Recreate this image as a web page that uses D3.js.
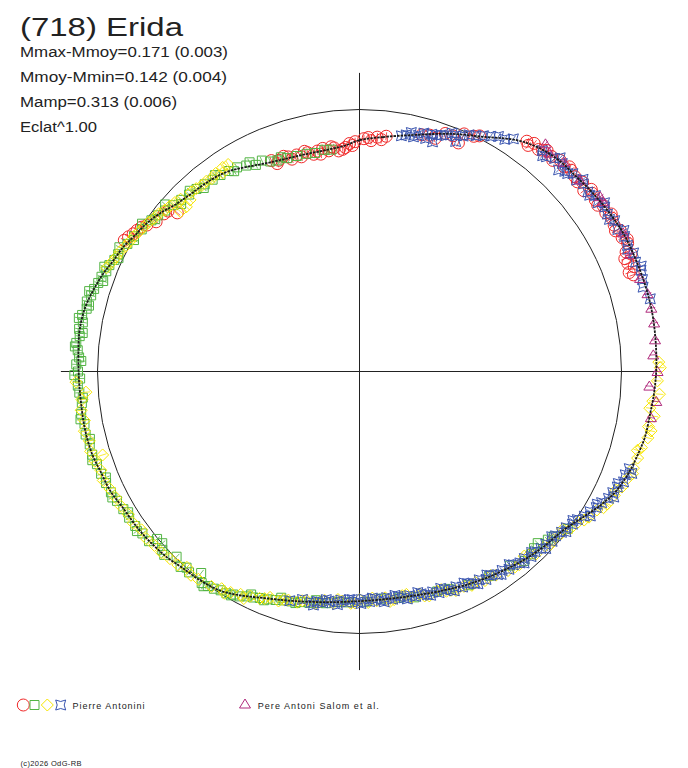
<!DOCTYPE html>
<html lang="en">
<head>
<meta charset="UTF-8">
<title>(718) Erida</title>
<script src="https://cdn.jsdelivr.net/npm/d3@7"></script>
<style>
  body { margin: 0; background: #fff; }
  text { font-family: "Liberation Sans", Arial, sans-serif; fill: #222; }
</style>
</head>
<body>
<div id="chart"></div>
<script>
// --- data: [phase, delta mag] (phase 0 at top, clockwise) ---
const fitCurve = [
  [0.000,0.135],[0.016,0.115],[0.038,0.079],[0.058,0.032],[0.078,-0.016],[0.095,-0.071],
  [0.106,-0.095],[0.119,-0.111],[0.134,-0.116],[0.146,-0.124],[0.161,-0.133],[0.173,-0.139],
  [0.185,-0.140],[0.200,-0.141],[0.212,-0.142],[0.223,-0.141],[0.237,-0.138],[0.250,-0.135],
  [0.262,-0.130],[0.273,-0.124],[0.286,-0.121],[0.296,-0.112],[0.306,-0.103],[0.319,-0.085],
  [0.329,-0.060],[0.342,-0.020],[0.355,0.015],[0.371,0.033],[0.386,0.051],[0.405,0.076],
  [0.424,0.099],[0.442,0.121],[0.460,0.137],[0.479,0.145],[0.500,0.143],[0.522,0.128],
  [0.545,0.100],[0.562,0.072],[0.578,0.035],[0.590,0.010],[0.604,-0.003],[0.617,-0.010],
  [0.628,-0.023],[0.642,-0.033],[0.653,-0.039],[0.667,-0.045],[0.679,-0.058],[0.692,-0.063],
  [0.701,-0.071],[0.713,-0.074],[0.722,-0.074],[0.733,-0.073],[0.747,-0.075],[0.771,-0.083],
  [0.783,-0.081],[0.791,-0.074],[0.799,-0.063],[0.808,-0.050],[0.817,-0.033],[0.827,-0.021],
  [0.837,-0.002],[0.847,0.012],[0.857,0.032],[0.868,0.059],[0.881,0.075],[0.894,0.083],
  [0.907,0.097],[0.920,0.125],[0.933,0.150],[0.9475,0.165],[0.962,0.171],[0.977,0.170],
  [0.989,0.160]
];

const redPts = [
  [0.937,0.148],[0.942,0.160],[0.946,0.150],[0.951,0.176],[0.955,0.163],[0.958,0.178],[0.963,0.166],
  [0.967,0.180],[0.970,0.168],[0.974,0.160],[0.978,0.176],[0.982,0.165],[0.985,0.182],[0.990,0.168],
  [0.993,0.150],[0.997,0.142],[0.003,0.128],[0.008,0.136],[0.012,0.118],[0.018,0.110],
  [0.940,0.172],[0.949,0.160],[0.961,0.156],[0.972,0.186],[0.980,0.158],[0.988,0.176],
  [0.995,0.160],[0.006,0.122],[0.015,0.128],
  [0.831,-0.030],[0.834,-0.022],[0.837,-0.012],[0.840,-0.006],[0.843,0.002],[0.846,0.016],
  [0.851,0.040],[0.858,0.046],[0.861,0.052],[0.864,0.088],
  [0.041,0.074],[0.046,0.066],[0.050,0.072],[0.055,0.038],[0.060,0.036],[0.065,0.055],
  [0.066,0.010],[0.072,0.002],[0.075,-0.010],
  [0.100,-0.090],[0.104,-0.100],[0.108,-0.092],[0.112,-0.110],[0.116,-0.104],[0.121,-0.115],
  [0.125,-0.108],[0.129,-0.118],[0.133,-0.112],[0.138,-0.120],[0.142,-0.103],[0.146,-0.122],
  [0.150,-0.116],[0.155,-0.128],[0.159,-0.121],[0.163,-0.130],[0.167,-0.124],[0.171,-0.134],
  [0.175,-0.128],[0.179,-0.137],[0.183,-0.118],[0.186,-0.104],[0.189,-0.108],[0.192,-0.125],
  [0.196,-0.112],
  [0.102,-0.080],[0.110,-0.100],[0.118,-0.096],[0.127,-0.122],[0.136,-0.106],[0.144,-0.128],
  [0.153,-0.112],[0.161,-0.136],[0.170,-0.118],[0.177,-0.142],[0.185,-0.132],[0.194,-0.100]
];

const greenPts = [
  [0.742,-0.080],[0.746,-0.070],[0.750,-0.078],[0.754,-0.085],[0.758,-0.075],[0.762,-0.082],
  [0.766,-0.090],[0.770,-0.080],[0.774,-0.086],[0.778,-0.076],[0.782,-0.084],[0.786,-0.072],
  [0.790,-0.078],[0.794,-0.068],[0.798,-0.064],[0.802,-0.056],[0.806,-0.052],[0.810,-0.042],
  [0.814,-0.040],[0.818,-0.030],[0.822,-0.026],[0.830,-0.012],[0.836,-0.004],[0.842,0.008],
  [0.850,0.020],[0.855,0.030],[0.860,0.040],[0.866,0.052],[0.872,0.062],[0.878,0.070],
  [0.884,0.074],[0.890,0.082],[0.896,0.088],[0.902,0.092],[0.908,0.098],[0.914,0.104],
  [0.920,0.118],[0.926,0.136],[0.931,0.130],[0.936,0.150],[0.941,0.158],[0.948,0.164],
  [0.955,0.168],[0.962,0.170],[0.968,0.175],[0.975,0.168],[0.980,0.172],
  [0.748,-0.092],[0.756,-0.066],[0.764,-0.094],[0.772,-0.070],[0.780,-0.094],[0.788,-0.066],
  [0.796,-0.080],[0.804,-0.040],[0.812,-0.056],[0.820,-0.018],[0.826,-0.034],[0.834,0.004],
  [0.845,-0.004],[0.852,0.030],[0.863,0.024],[0.870,0.074],[0.880,0.060],[0.888,0.092],
  [0.899,0.078],[0.911,0.112],[0.923,0.112],[0.944,0.150],
  [0.523,0.122],[0.528,0.118],[0.534,0.110],[0.540,0.104],[0.546,0.096],[0.551,0.090],
  [0.556,0.080],[0.561,0.070],[0.566,0.062],[0.570,0.052],[0.574,0.044],[0.578,0.030],
  [0.582,0.024],[0.586,0.014],[0.590,0.012],[0.594,0.002],[0.598,-0.003],[0.602,-0.008],
  [0.606,0.024],[0.612,-0.006],[0.618,-0.012],[0.624,0.007],[0.630,-0.024],[0.636,0.002],
  [0.640,-0.003],[0.642,-0.034],[0.648,-0.036],[0.654,-0.042],[0.660,-0.044],[0.666,-0.046],
  [0.672,-0.052],[0.678,-0.058],[0.684,-0.060],[0.690,-0.064],[0.696,-0.066],[0.702,-0.072],
  [0.708,-0.070],[0.714,-0.076],[0.720,-0.072],[0.726,-0.078],[0.732,-0.070],[0.738,-0.076],
  [0.530,0.128],[0.543,0.094],[0.553,0.098],[0.563,0.060],[0.572,0.060],[0.583,0.016],
  [0.600,-0.014],[0.615,0.002],[0.633,-0.016],[0.651,-0.048],[0.663,-0.036],[0.675,-0.062],
  [0.687,-0.052],[0.699,-0.078],[0.711,-0.064],[0.723,-0.084],[0.735,-0.064],
  [0.353,0.004],[0.362,0.030],[0.366,0.040],[0.372,0.062],[0.376,0.058],[0.380,0.048],
  [0.386,0.046],[0.395,0.070],[0.410,0.086],[0.425,0.096],[0.438,0.118],[0.446,0.126],
  [0.462,0.130],[0.472,0.143],[0.485,0.150],[0.495,0.140],[0.508,0.136],[0.515,0.134]
];

const yellowPts = [
  [0.812,-0.046],[0.816,-0.036],[0.820,-0.028],[0.824,-0.024],[0.828,-0.014],[0.832,-0.008],
  [0.836,-0.004],[0.840,0.004],[0.844,0.010],[0.848,0.016],[0.852,0.024],[0.856,0.028],
  [0.860,0.038],[0.864,0.044],[0.866,0.095],[0.868,0.050],[0.871,0.100],[0.872,0.058],
  [0.876,0.090],[0.880,0.068],[0.884,0.072],[0.888,0.078],[0.892,0.076],[0.896,0.082],
  [0.900,0.074],[0.904,0.090],[0.906,0.070],[0.910,0.072],
  [0.605,-0.004],[0.610,-0.010],[0.615,0.004],[0.620,-0.014],[0.626,-0.018],[0.632,-0.026],
  [0.638,-0.028],[0.644,-0.036],[0.650,-0.030],[0.656,-0.042],[0.662,-0.040],[0.668,-0.048],
  [0.674,-0.050],[0.680,-0.056],[0.686,-0.066],[0.692,-0.060],[0.698,-0.070],[0.700,-0.033],
  [0.704,-0.074],[0.710,-0.068],[0.716,-0.078],[0.722,-0.070],[0.728,-0.076],[0.734,-0.068],
  [0.738,-0.050],[0.744,-0.086],
  [0.440,0.112],[0.446,0.128],[0.452,0.118],[0.458,0.140],[0.464,0.132],[0.470,0.150],
  [0.476,0.138],[0.482,0.152],[0.488,0.142],[0.494,0.136],[0.500,0.150],[0.506,0.132],
  [0.512,0.140],[0.518,0.126],[0.524,0.134],[0.530,0.112],[0.536,0.118],[0.542,0.100],
  [0.548,0.098],[0.554,0.080],[0.560,0.082],[0.566,0.060],[0.572,0.052],[0.578,0.040],
  [0.584,0.026],[0.590,0.020],[0.596,0.004],
  [0.443,0.128],[0.455,0.124],[0.467,0.152],[0.479,0.132],[0.491,0.156],[0.503,0.134],
  [0.515,0.146],[0.527,0.124],[0.539,0.112],[0.551,0.094],[0.563,0.068],[0.575,0.030],
  [0.587,0.010],
  [0.245,-0.145],[0.248,-0.150],[0.255,-0.140],[0.262,-0.150],[0.266,-0.128],[0.270,-0.120],
  [0.274,-0.140],[0.280,-0.126],[0.286,-0.132],[0.292,-0.118],[0.298,-0.115],[0.304,-0.112],
  [0.310,-0.106],[0.316,-0.098],[0.322,-0.085],[0.328,-0.076],[0.334,-0.052],[0.340,-0.040],
  [0.346,-0.014],[0.352,-0.004],[0.358,0.014],[0.364,0.024],[0.370,0.030],[0.378,0.034],
  [0.384,0.062],[0.390,0.048],[0.398,0.058],[0.406,0.072],[0.414,0.078],[0.420,0.092],
  [0.428,0.100],[0.434,0.098],
  [0.282,-0.138],[0.294,-0.106],[0.307,-0.116],[0.319,-0.082],[0.331,-0.070],[0.343,-0.030],
  [0.355,0.020],[0.367,0.018],[0.381,0.052],[0.393,0.052],[0.409,0.084],[0.423,0.088],
  [0.437,0.108]
];

const bluePts = [
  [0.028,0.098],[0.031,0.090],[0.034,0.075],[0.036,0.092],[0.039,0.080],[0.042,0.064],
  [0.044,0.085],[0.047,0.060],[0.049,0.091],[0.050,0.058],[0.053,0.050],[0.056,0.045],
  [0.059,0.026],[0.062,0.030],[0.063,0.054],[0.066,0.020],[0.069,0.005],[0.073,-0.004],
  [0.077,-0.018],[0.081,-0.030],[0.085,-0.045],[0.089,-0.048],[0.093,-0.068],
  [0.110,-0.098],[0.114,-0.090],[0.118,-0.106],[0.123,-0.112],[0.124,-0.085],[0.127,-0.098],
  [0.131,-0.114],[0.135,-0.108],[0.139,-0.118],[0.144,-0.112],[0.148,-0.126],[0.152,-0.118],
  [0.156,-0.130],[0.160,-0.124],[0.165,-0.134],[0.170,-0.128],[0.175,-0.138],[0.180,-0.133],
  [0.185,-0.142],[0.190,-0.136],[0.195,-0.144],[0.200,-0.138],
  [0.112,-0.084],[0.120,-0.122],[0.129,-0.100],[0.137,-0.128],[0.146,-0.110],[0.154,-0.138],
  [0.163,-0.120],[0.172,-0.146],[0.182,-0.128],[0.193,-0.150],[0.204,-0.132],[0.211,-0.146],
  [0.305,-0.098],[0.309,-0.092],[0.313,-0.096],[0.317,-0.082],[0.321,-0.075],[0.325,-0.070],
  [0.329,-0.054],[0.333,-0.045],[0.337,-0.032],[0.341,-0.022],[0.345,-0.006],[0.349,0.000],
  [0.353,0.012],[0.357,0.016],[0.361,0.026],[0.365,0.022],[0.369,0.034],[0.373,0.036],
  [0.377,0.044],[0.381,0.041],[0.385,0.054],[0.389,0.052],[0.393,0.064],[0.397,0.060],
  [0.401,0.074],[0.405,0.070],[0.409,0.084],[0.413,0.080],[0.417,0.094],[0.421,0.090],
  [0.425,0.104],[0.429,0.100],[0.433,0.114],[0.437,0.110],[0.441,0.122],[0.445,0.118],
  [0.449,0.131],[0.453,0.126],[0.457,0.138],[0.461,0.133],[0.465,0.143],[0.469,0.138],
  [0.473,0.150],[0.477,0.141],[0.481,0.152],[0.485,0.142],[0.489,0.151],[0.493,0.140],
  [0.497,0.152],[0.501,0.139],[0.505,0.150],[0.509,0.136],[0.513,0.144],[0.517,0.131],
  [0.521,0.134],[0.525,0.122],[0.529,0.124],[0.533,0.114],
  [0.307,-0.113],[0.315,-0.080],[0.323,-0.086],[0.331,-0.042],[0.339,-0.042],[0.347,0.007],
  [0.355,0.003],[0.363,0.036],[0.371,0.021],[0.379,0.052],[0.387,0.040],[0.395,0.076],
  [0.403,0.062],[0.411,0.095],[0.419,0.081],[0.427,0.114],[0.435,0.100],[0.443,0.134],
  [0.451,0.119],[0.459,0.148],[0.467,0.130],[0.475,0.157],[0.483,0.134],[0.491,0.156],
  [0.499,0.132],[0.507,0.150],[0.515,0.122],[0.523,0.139],[0.531,0.104],[0.539,0.118],
  [0.547,0.097]
];

const magentaPts = [
  [0.109,-0.125],[0.114,-0.108],[0.123,-0.119],[0.136,-0.117],[0.150,-0.138],[0.153,-0.135],
  [0.173,-0.139],[0.185,-0.129],[0.199,-0.131],[0.208,-0.141],[0.216,-0.142],[0.224,-0.142],
  [0.233,-0.137],[0.241,-0.126],[0.250,-0.140],[0.258,-0.111],[0.266,-0.141],[0.275,-0.129]
];

const titleText = "(718) Erida";
const infoLines = ["Mmax-Mmoy=0.171 (0.003)", "Mmoy-Mmin=0.142 (0.004)", "Mamp=0.313 (0.006)", "Eclat^1.00"];
const observers = ["Pierre Antonini", "Pere Antoni Salom et al."];
const copyright = "(c)2026 OdG-RB";
const brightAmp = 0.142;   // Mmoy-Mmin
const eclatPow = 1.00;

// --- layout ---
const W = 688, H = 768;
const cx = 359.5, cy = 371.5, R0 = 262;

const svg = d3.select("#chart").append("svg")
  .attr("width", W).attr("height", H)
  .style("display", "block");

const angle = d3.scaleLinear().domain([0, 1]).range([0, 2 * Math.PI]);
const radius = d3.scaleLinear().domain([0, 1]).range([0, R0]);
const flux = dm => Math.pow(Math.pow(10, -0.4 * dm), eclatPow);
const pos = d => d3.pointRadial(angle(d[0]), radius(flux(d[1])));

const plot = svg.append("g").attr("transform", `translate(${cx},${cy})`);

// axes and reference circle
const L = radius(flux(-brightAmp));
plot.append("line").attr("x1", -L).attr("x2", L).attr("y1", 0).attr("y2", 0)
  .attr("stroke", "#222").attr("stroke-width", 1);
plot.append("line").attr("x1", 0).attr("x2", 0).attr("y1", -L).attr("y2", L)
  .attr("stroke", "#222").attr("stroke-width", 1);
plot.append("circle").attr("r", radius(1)).attr("fill", "none")
  .attr("stroke", "#222").attr("stroke-width", 1);

// symbols
const sym = {
  circle: "M6,0A6,6 0 1,1 -6,0A6,6 0 1,1 6,0Z",
  square: "M-4.5,-4.5H4.5V4.5H-4.5Z",
  diamond: "M0,-6L6,0L0,6L-6,0Z",
  star: "M-5,-5Q0,-2 5,-5Q2,0 5,5Q0,2 -5,5Q-2,0 -5,-5Z",
  triangle: "M0,-5L5.5,4L-5.5,4Z"
};

const series = [
  { pts: redPts, color: "#f02828", shape: "circle" },
  { pts: greenPts, color: "#52b443", shape: "square" },
  { pts: yellowPts, color: "#f7e600", shape: "diamond" },
  { pts: bluePts, color: "#3a55b0", shape: "star" },
  { pts: magentaPts, color: "#b02a7c", shape: "triangle" }
];

series.forEach(s => {
  const g = plot.append("g");
  // radial error ticks
  g.selectAll("line").data(s.pts).join("line")
    .each(function (d) {
      const a = angle(d[0]), r = radius(flux(d[1]));
      const p1 = d3.pointRadial(a, r - 4), p2 = d3.pointRadial(a, r + 4);
      d3.select(this).attr("x1", p1[0]).attr("y1", p1[1]).attr("x2", p2[0]).attr("y2", p2[1]);
    })
    .attr("stroke", s.color).attr("stroke-width", 0.8);
  g.selectAll("path").data(s.pts).join("path")
    .attr("transform", d => `translate(${pos(d)})`)
    .attr("d", sym[s.shape])
    .attr("fill", "none")
    .attr("stroke", s.color)
    .attr("stroke-width", 1);
});

// fitted curve
const fitLine = d3.lineRadial()
  .angle(d => angle(d[0]))
  .radius(d => radius(flux(d[1])))
  .curve(d3.curveCatmullRomClosed);
plot.append("path").datum(fitCurve)
  .attr("d", fitLine)
  .attr("fill", "none")
  .attr("stroke", "#1a1a1a")
  .attr("stroke-width", 1.8)
  .attr("stroke-dasharray", "2.5,1");

// text block
svg.append("text").attr("x", 20).attr("y", 36)
  .attr("font-size", 26).attr("textLength", 163).attr("lengthAdjust", "spacingAndGlyphs")
  .text(titleText);
const infoWidths = [208, 207, 157, 77];
infoLines.forEach((t, i) => {
  svg.append("text").attr("x", 20).attr("y", 56.5 + i * 25)
    .attr("font-size", 14).attr("textLength", infoWidths[i]).attr("lengthAdjust", "spacingAndGlyphs")
    .text(t);
});

// legend
const leg = svg.append("g");
const legY = 705;
[[23.3, "circle"], [34.5, "square"], [47.3, "diamond"], [60.7, "star"]].forEach(([x, sh], i) => {
  leg.append("path").attr("transform", `translate(${x},${legY})`)
    .attr("d", sym[sh]).attr("fill", "none")
    .attr("stroke", series[i].color).attr("stroke-width", 1);
});
leg.append("text").attr("x", 72.5).attr("y", 709).attr("font-size", 9)
  .attr("textLength", 72).attr("lengthAdjust", "spacing").text(observers[0]);
leg.append("path").attr("transform", `translate(245,${legY - 1})`)
  .attr("d", sym.triangle).attr("fill", "none")
  .attr("stroke", series[4].color).attr("stroke-width", 1);
leg.append("text").attr("x", 257.7).attr("y", 709).attr("font-size", 9)
  .attr("textLength", 121).attr("lengthAdjust", "spacing").text(observers[1]);

svg.append("text").attr("x", 20.5).attr("y", 766).attr("font-size", 7.5)
  .attr("textLength", 61).attr("lengthAdjust", "spacing").text(copyright);
</script>
</body>
</html>
